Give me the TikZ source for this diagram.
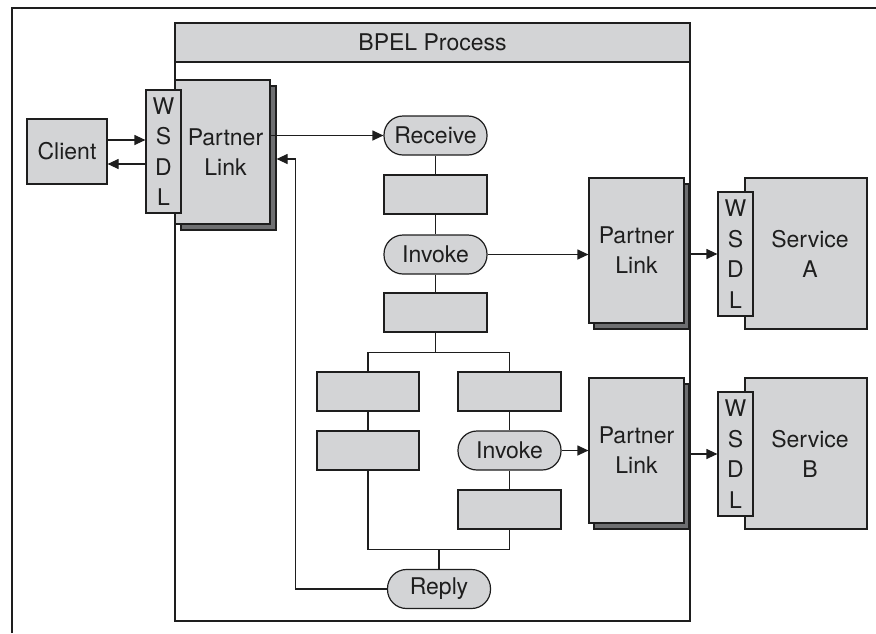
\documentclass[tikz,border=0pt]{standalone}
\usepackage{fontspec}
\setmainfont{TeX Gyre Heros}
\usetikzlibrary{calc,arrows.meta}
\definecolor{boxgray}{RGB}{211,212,214}
\definecolor{shadowgray}{RGB}{110,111,113}
\definecolor{linec}{RGB}{30,30,30}
\begin{document}
\begin{tikzpicture}[x=1pt,y=-1pt,
  every node/.style={font=\fontsize{23}{30}\selectfont, inner sep=0pt, align=center, text=linec},
  base/.style={draw=linec, line width=1.2pt, fill=boxgray},
  gbox/.style={base, minimum width=103pt, minimum height=39pt},
  act/.style={base, minimum width=103pt, minimum height=39pt, rounded corners=19pt},
  plink/.style={base, minimum width=95pt, minimum height=145pt},
  shad/.style={draw=linec, line width=1.2pt, fill=shadowgray, minimum width=95pt, minimum height=145pt},
  wsdl/.style={base, minimum width=35pt, minimum height=124pt, font=\fontsize{23}{30.5}\selectfont},
  svc/.style={base, minimum width=122pt, minimum height=151pt},
  ln/.style={draw=linec, line width=1.2pt},
  arr/.style={ln, -{Triangle[length=11pt,width=10pt]}}
]
\useasboundingbox (0,0) rectangle (876,633);
% outer frame (top and left only)
\coordinate (ftl) at (12,8);
\coordinate (ftr) at (876,8);
\coordinate (fbl) at (12,633);
\draw[ln] (fbl) -- (ftl) -- (ftr);
% process
\node[draw=linec, line width=1.2pt, minimum width=515pt, minimum height=559pt] (proc) at (432.5,341.5) {};
\node[base, minimum width=515pt, minimum height=39pt] (head) at (432.5,42.5) {BPEL Process};
% client side
\node[base, minimum width=80pt, minimum height=65pt] (client) at (67,151.5) {Client};
\node[shad, minimum height=144pt] (plLs) at (228.5,158) {};
\node[plink, minimum height=144pt] (plL) at (222.5,152) {\hspace*{6pt}Partner\\\hspace*{6pt}Link};
\node[wsdl, minimum height=123pt] (wsL) at (163.5,151.5) {W\\S\\D\\L};
% activities
\node[act] (recv) at (435.5,135.5) {Receive};
\node[gbox] (b1) at (435.5,194.5) {};
\node[act] (inv1) at (435.5,254.5) {Invoke};
\node[gbox] (b2) at (435.5,312.5) {};
\node[gbox, minimum width=102pt] (l1) at (368,391.5) {};
\node[gbox, minimum width=102pt] (l2) at (368,450.5) {};
\node[gbox] (r1) at (509.5,391.5) {};
\node[act] (inv2) at (509.5,450.5) {Invoke};
\node[gbox] (r3) at (509.5,509.5) {};
\node[act] (reply) at (439,589) {Reply};
% partner A
\node[shad] (plAs) at (641.5,256.5) {};
\node[plink] (plA) at (636.5,250.5) {Partner\\Link};
\node[svc] (svcA) at (806,253.5) {\hspace*{8pt}Service\\\hspace*{8pt}A};
\node[wsdl] (wsA) at (735.5,254) {W\\S\\D\\L};
% partner B
\node[shad] (plBs) at (641.5,456.5) {};
\node[plink] (plB) at (636.5,450.5) {Partner\\Link};
\node[svc] (svcB) at (806,453.5) {\hspace*{8pt}Service\\\hspace*{8pt}B};
\node[wsdl] (wsB) at (735.5,454) {W\\S\\D\\L};
% connectors
\draw[arr] ($(client.east)+(0,-11.5)$) -- ($(wsL.west)+(0,-11.5)$);
\draw[arr] ($(wsL.west)+(0,12.5)$) -- ($(client.east)+(0,12.5)$);
\draw[arr] (plL.east |- recv.west) -- (recv.west);
\coordinate (fbin) at ($(plLs.east)+(0,1)$);
\coordinate (fbcorner) at ($(reply.west)+(-91.5,0)$);
\draw[arr] (reply.west) -- (fbcorner) |- (fbin);
\draw[ln] (recv.south) -- (b1.north);
\draw[ln] (b1.south) -- (inv1.north);
\draw[ln] (inv1.south) -- (b2.north);
\coordinate (fork) at ($(b2.south)+(0,20)$);
\draw[ln] (b2.south) -- (fork);
\draw[ln] (l1.north) |- (fork) -| (r1.north);
\draw[ln] (l1.south) -- (l2.north);
\draw[ln] (r1.south) -- (inv2.north);
\draw[ln] (inv2.south) -- (r3.north);
\coordinate (join) at ($(reply.north)+(0,-19.5)$);
\draw[ln] (l2.south) |- (join) -| (r3.south);
\draw[ln] (join) -- (reply.north);
\draw[arr] (inv1.east) -- (inv1.east -| plA.west);
\draw[arr] (wsA.west -| proc.east) -- (wsA.west);
\draw[arr] (inv2.east) -- (inv2.east -| plB.west);
\draw[arr] (wsB.west -| proc.east) -- (wsB.west);
\end{tikzpicture}
\end{document}
